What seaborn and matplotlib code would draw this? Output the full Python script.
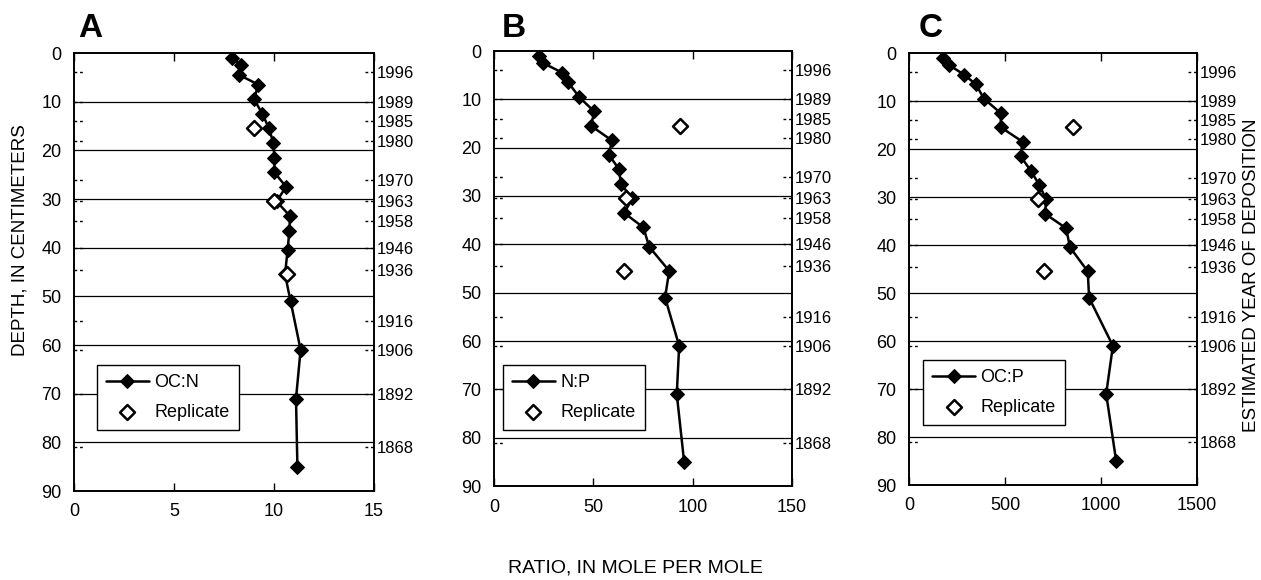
import matplotlib
matplotlib.use("Agg")
import matplotlib.pyplot as plt
import seaborn as sns
import pandas as pd

# ---- data ----
depths = [1, 2.5, 4.5, 6.5, 9.5, 12.5, 15.5, 18.5, 21.5, 24.5, 27.5, 30.5,
          33.5, 36.5, 40.5, 45.5, 51, 61, 71, 85]
oc_n = [7.92, 8.35, 8.25, 9.22, 9.0, 9.42, 9.75, 9.97, 10.02, 10.02, 10.6, 10.13,
        10.8, 10.77, 10.68, 10.55, 10.83, 11.33, 11.1, 11.17]
n_p = [22.7, 24.8, 34.4, 37.4, 42.8, 50.4, 48.9, 59.3, 57.9, 63.0, 63.8, 69.7,
       65.5, 75.2, 78.1, 88.2, 86.1, 93.2, 92.0, 95.7]
oc_p = [177, 209, 286, 348, 390, 477, 479, 592, 581, 634, 679, 714,
        709, 818, 839, 931, 938, 1062, 1027, 1079]

rep_depths = [15.5, 30.5, 45.5]
rep_oc_n = [9.02, 10.02, 10.63]
rep_n_p = [93.7, 66.3, 65.6]
rep_oc_p = [853, 670, 705]

year_depths = [4, 10, 14, 18, 26, 30.5, 34.5, 40, 44.5, 55, 61, 70, 81]
year_labels = ["1996", "1989", "1985", "1980", "1970", "1963", "1958", "1946",
               "1936", "1916", "1906", "1892", "1868"]

depth_ticks = [0, 10, 20, 30, 40, 50, 60, 70, 80, 90]
grid_depths = [10, 20, 30, 40, 50, 60, 70, 80]

panels = [
    dict(letter="A", name="OC:N", vals=oc_n, reps=rep_oc_n, xticks=[0, 5, 10, 15]),
    dict(letter="B", name="N:P", vals=n_p, reps=rep_n_p, xticks=[0, 50, 100, 150]),
    dict(letter="C", name="OC:P", vals=oc_p, reps=rep_oc_p, xticks=[0, 500, 1000, 1500]),
]

# ---- layout (figure fractions) ----
W, H = 1261, 580
boxes = [  # left, right, top, bottom in pixels
    (74, 374, 53, 491),
    (494, 792, 51, 486),
    (909, 1197, 53, 485),
]
legend_anchor = [(0.076, 0.139), (0.029, 0.129), (0.048, 0.139)]
letter_x = [78, 502, 919]

sns.set_theme(style="white")
plt.rcParams["font.family"] = ["Liberation Sans", "DejaVu Sans"]
plt.rcParams["axes.edgecolor"] = "black"
plt.rcParams["text.color"] = "black"
plt.rcParams["xtick.color"] = "black"
plt.rcParams["ytick.color"] = "black"

fig = plt.figure(figsize=(W / 100, H / 100), dpi=100)
fig.patch.set_facecolor("white")

for i, p in enumerate(panels):
    l, r, t, b = boxes[i]
    ax = fig.add_axes([l / W, 1 - b / H, (r - l) / W, (b - t) / H])
    df = pd.DataFrame({"depth": depths, "val": p["vals"]})
    rdf = pd.DataFrame({"depth": rep_depths, "val": p["reps"]})

    # horizontal grid lines
    for g in grid_depths:
        ax.axhline(g, color="black", lw=0.9, zorder=1)
    # dashed year marks at both spines
    ax.hlines(year_depths, 0.0, 0.03, transform=ax.get_yaxis_transform(),
              colors="black", linewidth=1.0, linestyles=(0, (2, 2)), zorder=1)
    ax.hlines(year_depths, 0.97, 1.0, transform=ax.get_yaxis_transform(),
              colors="black", linewidth=1.0, linestyles=(0, (2, 2)), zorder=1)

    sns.lineplot(data=df, x="val", y="depth", sort=False, orient="y", estimator=None,
                 color="black", lw=1.8, marker="D", markersize=6.8,
                 markeredgecolor="black", label=p["name"], ax=ax, zorder=3)
    sns.scatterplot(data=rdf, x="val", y="depth", marker="D", s=58,
                    facecolor="white", edgecolor="black", linewidth=1.8,
                    label="Replicate", ax=ax, zorder=4)

    ax.set_xlim(p["xticks"][0], p["xticks"][-1])
    ax.set_ylim(90, 0)
    ax.set_xticks(p["xticks"])
    ax.set_yticks(depth_ticks)
    ax.set_xlabel("")
    ax.set_ylabel("")
    ax.tick_params(axis="x", direction="in", top=True, bottom=True, length=6,
                   width=1, labelsize=13, pad=9)
    ax.tick_params(axis="y", length=0, labelsize=13, pad=9)
    for s in ax.spines.values():
        s.set_linewidth(1.4)
        s.set_color("black")
        s.set_visible(True)

    leg = ax.legend(loc="lower left", bbox_to_anchor=legend_anchor[i], borderaxespad=0,
                    fontsize=13, frameon=True, fancybox=False, edgecolor="black",
                    framealpha=1, handlelength=2.4, handletextpad=0.3,
                    borderpad=0.5, labelspacing=0.7)
    leg.get_frame().set_linewidth(1.0)

    # right axis with years
    ax2 = ax.twinx()
    ax2.set_ylim(90, 0)
    ax2.set_yticks(year_depths)
    ax2.set_yticklabels(year_labels)
    ax2.tick_params(axis="y", length=0, labelsize=12, pad=2)
    ax2.grid(False)
    for s in ax2.spines.values():
        s.set_visible(False)

    fig.text(letter_x[i] / W, 1 - 37 / H, p["letter"], fontsize=24,
             fontweight="bold", ha="left", va="baseline")

fig.text(20 / W, 1 - 240 / H, "DEPTH, IN CENTIMETERS", rotation=90,
         fontsize=13.5, ha="center", va="center")
fig.text(1252 / W, 1 - 275 / H, "ESTIMATED YEAR OF DEPOSITION", rotation=90,
         fontsize=13.5, ha="center", va="center")
fig.text(635 / W, 1 - 568 / H, "RATIO, IN MOLE PER MOLE",
         fontsize=14, ha="center", va="center")

fig.savefig("out.png", dpi=100, facecolor="white")
